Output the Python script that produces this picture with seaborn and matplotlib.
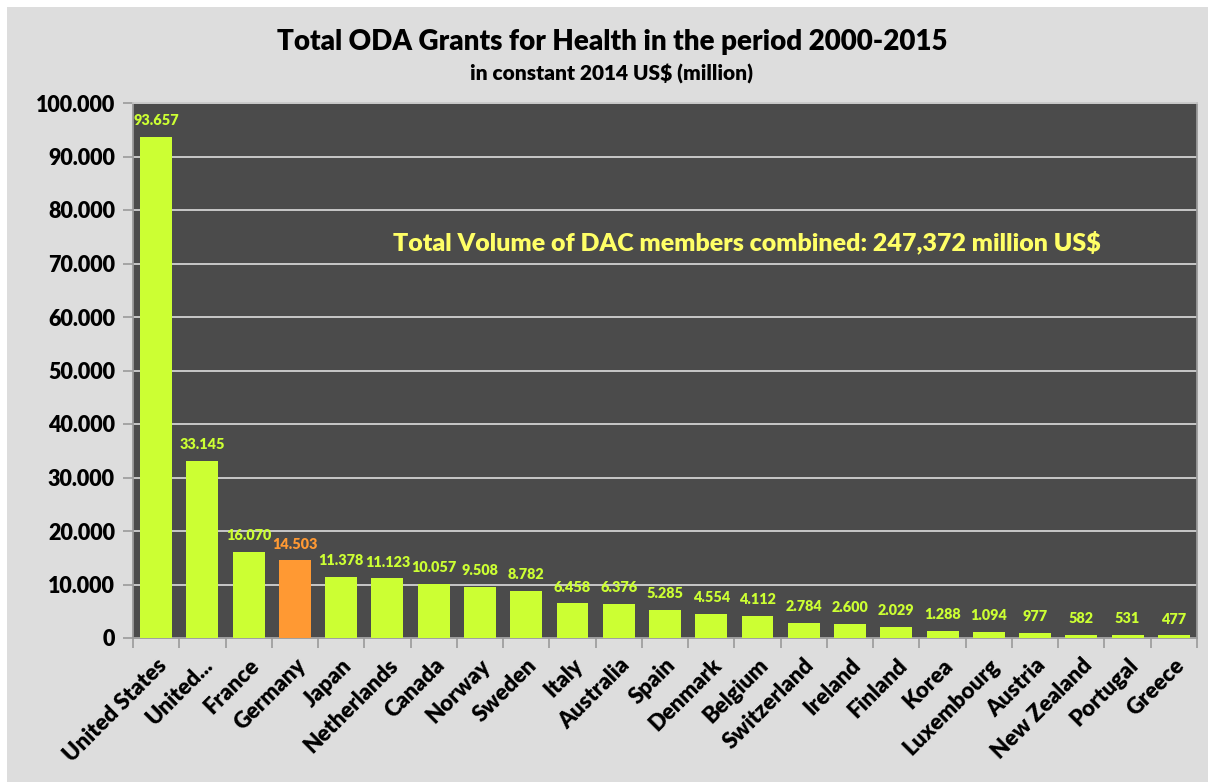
import matplotlib
matplotlib.use("Agg")
import matplotlib.pyplot as plt
import matplotlib.patches as mpatches
import seaborn as sns
import pandas as pd
from matplotlib.ticker import FuncFormatter, MultipleLocator

# Total ODA grants for health 2000-2015, constant 2014 US$ (million)
countries = ["United States", "United...", "France", "Germany", "Japan", "Netherlands",
             "Canada", "Norway", "Sweden", "Italy", "Australia", "Spain", "Denmark",
             "Belgium", "Switzerland", "Ireland", "Finland", "Korea", "Luxembourg",
             "Austria", "New Zealand", "Portugal", "Greece"]
values = [93657, 33145, 16070, 14503, 11378, 11123, 10057, 9508, 8782, 6458, 6376,
          5285, 4554, 4112, 2784, 2600, 2029, 1288, 1094, 977, 582, 531, 477]
highlight = "Germany"

GREEN = "#ccff33"
ORANGE = "#ff9933"
colors = [ORANGE if c == highlight else GREEN for c in countries]

df = pd.DataFrame({"country": countries, "value": values})

sns.set_theme(style="dark")
plt.rcParams["font.family"] = ["Lato", "DejaVu Sans"]
WEIGHT = "heavy"
plt.rcParams["font.weight"] = WEIGHT

W, H = 1208, 782
fig = plt.figure(figsize=(W / 100, H / 100), dpi=100, facecolor="white")
fig.patches.append(mpatches.Rectangle((7 / W, 0), 1 - 7 / W, 1 - 7 / H,
                                      transform=fig.transFigure, facecolor="#dddddd",
                                      edgecolor="none", zorder=-10))

ax = fig.add_axes([133 / W, 1 - 638 / H, (1197 - 133) / W, (638 - 103) / H])
ax.set_facecolor("#4b4b4b")

sns.barplot(data=df, x="country", y="value", hue="country", palette=colors,
            legend=False, width=0.69, saturation=1, linewidth=0, ax=ax, zorder=3)

ax.set_ylim(0, 100000)
ax.set_xlim(-0.5, len(countries) - 0.5)
ax.yaxis.set_major_locator(MultipleLocator(10000))
ax.yaxis.set_major_formatter(FuncFormatter(lambda v, p: f"{v:,.0f}".replace(",", ".")))
ax.grid(axis="y", color="#c8c8c8", linewidth=1.4, zorder=1)
ax.grid(axis="x", visible=False)
ax.set_axisbelow(True)
ax.set_xlabel("")
ax.set_ylabel("")

for side in ["left", "bottom", "right", "top"]:
    ax.spines[side].set_visible(True)
    ax.spines[side].set_color("#9a9a9a")
    ax.spines[side].set_linewidth(1.3)
ax.spines["top"].set_color("#c8c8c8")

ax.tick_params(axis="y", which="major", left=True, length=7, width=1.2, color="#9a9a9a",
               labelsize=15.5, labelcolor="black", pad=6)
for lbl in ax.get_yticklabels():
    lbl.set_fontweight(WEIGHT)

# category labels at bar centres, tick marks at category boundaries
ax.set_xticks(range(len(countries)))
ax.set_xticklabels(countries, rotation=45, ha="right", rotation_mode="anchor",
                   fontsize=16, fontweight=WEIGHT, color="black")
ax.tick_params(axis="x", which="major", bottom=False, length=0, pad=12)
ax.set_xticks([i - 0.5 for i in range(len(countries) + 1)], minor=True)
ax.tick_params(axis="x", which="minor", bottom=True, length=7, width=1.2, color="#9a9a9a")

# value labels above bars
for i, (v, c) in enumerate(zip(values, colors)):
    ax.annotate(f"{v:,.0f}".replace(",", "."), xy=(i, v), xytext=(0, 7),
                textcoords="offset points", ha="center", va="bottom",
                fontsize=10.4, fontweight=WEIGHT, color=c)

ax.text(0.577, 0.74, "Total Volume of DAC members combined: 247,372 million US$",
        transform=ax.transAxes, ha="center", va="center", fontsize=18,
        fontweight=WEIGHT, color="#ffff66")

fig.text(612 / W, 1 - 42 / H, "Total ODA Grants for Health in the period 2000-2015",
         ha="center", va="center", fontsize=20, fontweight=WEIGHT, color="black")
fig.text(612 / W, 1 - 74 / H, "in constant 2014 US$ (million)",
         ha="center", va="center", fontsize=15, fontweight=WEIGHT, color="black")

fig.savefig("out.png", dpi=100, facecolor=fig.get_facecolor())
